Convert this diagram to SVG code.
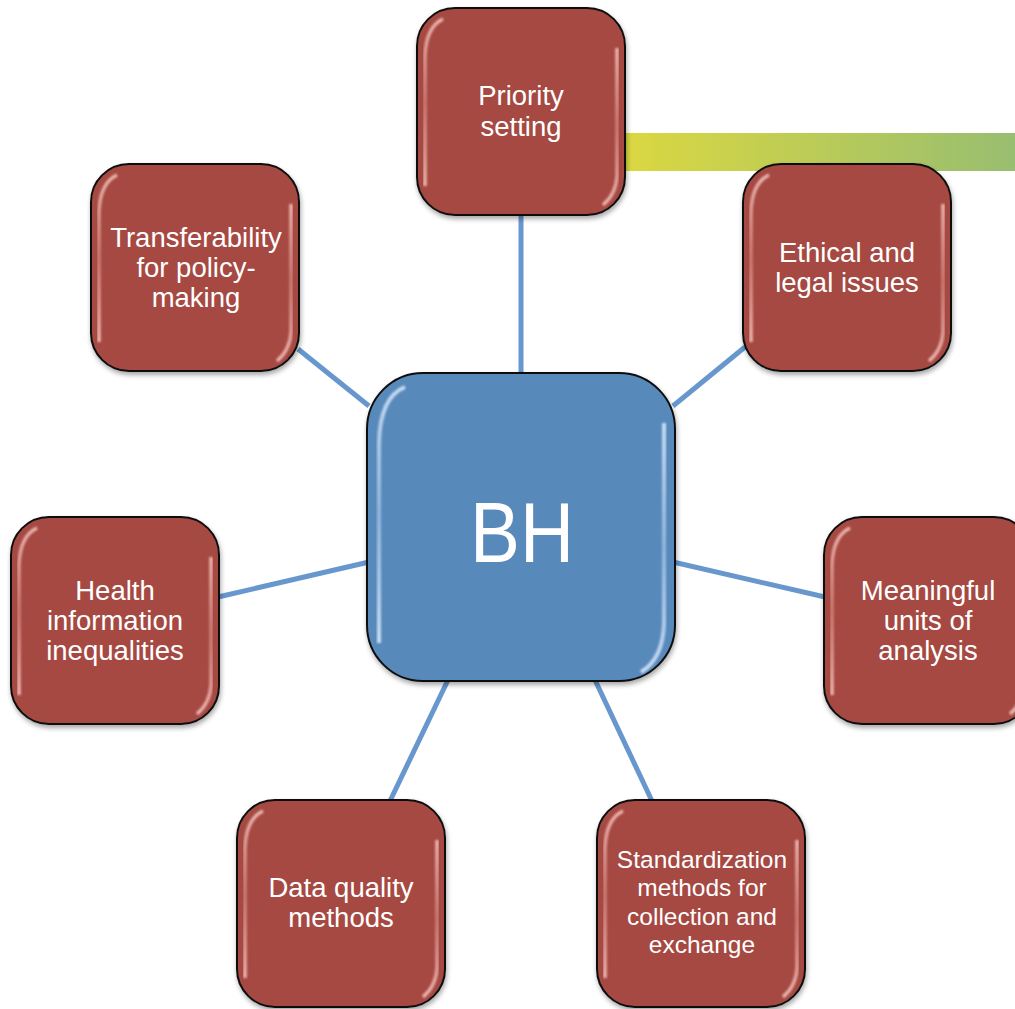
<svg xmlns="http://www.w3.org/2000/svg" xmlns:xlink="http://www.w3.org/1999/xlink" width="1015" height="1009" viewBox="0 0 1015 1009">
<defs>
<style>
.lbl{font-family:"Liberation Sans",Arial,sans-serif;font-size:27.5px;fill:#ffffff;text-anchor:middle}
.sm{font-size:24.5px}
.big{font-size:86px}
.conn{stroke:#6797cd;stroke-width:5;fill:none}
</style>
<linearGradient id="bar" x1="0" y1="0" x2="1" y2="0">
<stop offset="0" stop-color="#dcd840"/>
<stop offset="1" stop-color="#98be70"/>
</linearGradient>
<linearGradient id="hlR" x1="0" y1="0" x2="0" y2="1">
<stop offset="0" stop-color="#f6c4be" stop-opacity="0.9"/>
<stop offset="0.5" stop-color="#e49a92" stop-opacity="0.6"/>
<stop offset="1" stop-color="#f6c4be" stop-opacity="0.9"/>
</linearGradient>
<linearGradient id="hlB" x1="0" y1="0" x2="0" y2="1">
<stop offset="0" stop-color="#cfe3f7" stop-opacity="0.95"/>
<stop offset="0.5" stop-color="#a9c8ea" stop-opacity="0.7"/>
<stop offset="1" stop-color="#cfe3f7" stop-opacity="0.95"/>
</linearGradient>
<filter id="sh" x="-10%" y="-10%" width="125%" height="125%">
<feGaussianBlur in="SourceAlpha" stdDeviation="2.5"/>
<feOffset dx="1" dy="3" result="b"/>
<feComponentTransfer><feFuncA type="linear" slope="0.35"/></feComponentTransfer>
<feMerge><feMergeNode/><feMergeNode in="SourceGraphic"/></feMerge>
</filter>
<filter id="soft"><feGaussianBlur stdDeviation="0.9"/></filter>
<g id="redbox">
<rect x="0" y="0" width="208" height="207" rx="38" fill="#a54a43" stroke="#111" stroke-width="2" filter="url(#sh)"/>
<path d="M26,11 Q9,19 8,48 L8,178" stroke="url(#hlR)" stroke-width="3.5" fill="none" filter="url(#soft)"/>
<path d="M200,40 L200,168 Q199,186 186,197" stroke="url(#hlR)" stroke-width="3.5" fill="none" filter="url(#soft)"/>
</g>
<g id="bluebox">
<rect x="0" y="0" width="308" height="308" rx="56" fill="#5889bb" stroke="#111" stroke-width="2" filter="url(#sh)"/>
<path d="M38,14 Q13,24 12,70 L12,270" stroke="url(#hlB)" stroke-width="4" fill="none" filter="url(#soft)"/>
<path d="M297,50 L297,250 Q296,286 274,299" stroke="url(#hlB)" stroke-width="4" fill="none" filter="url(#soft)"/>
</g>
</defs>
<rect x="0" y="0" width="1015" height="1009" fill="#ffffff"/>
<rect id="bar-deco" x="620" y="133" width="395" height="38" fill="url(#bar)"/>
<g id="connectors">
<line class="conn" x1="521" y1="214" x2="521" y2="375"/>
<line class="conn" x1="298" y1="349" x2="369" y2="406"/>
<line class="conn" x1="745" y1="347" x2="673" y2="406"/>
<line class="conn" x1="218" y1="597" x2="369" y2="562"/>
<line class="conn" x1="825" y1="597" x2="673" y2="562"/>
<line class="conn" x1="390" y1="801" x2="448" y2="680"/>
<line class="conn" x1="652" y1="801" x2="595" y2="680"/>
</g>
<g id="node-priority">
<use xlink:href="#redbox" x="417" y="8"/>
<text class="lbl" x="521" y="105">Priority</text>
<text class="lbl" x="521" y="136">setting</text>
</g>
<g id="node-transfer">
<use xlink:href="#redbox" x="91" y="164"/>
<text class="lbl" x="196" y="247">Transferability</text>
<text class="lbl" x="196" y="277">for policy-</text>
<text class="lbl" x="196" y="307">making</text>
</g>
<g id="node-ethical">
<use xlink:href="#redbox" x="743" y="164"/>
<text class="lbl" x="847" y="262">Ethical and</text>
<text class="lbl" x="847" y="292">legal issues</text>
</g>
<g id="node-health">
<use xlink:href="#redbox" x="11" y="517"/>
<text class="lbl" x="115" y="600">Health</text>
<text class="lbl" x="115" y="630">information</text>
<text class="lbl" x="115" y="660">inequalities</text>
</g>
<g id="node-meaningful">
<use xlink:href="#redbox" x="824" y="517"/>
<text class="lbl" x="928" y="600">Meaningful</text>
<text class="lbl" x="928" y="630">units of</text>
<text class="lbl" x="928" y="660">analysis</text>
</g>
<g id="node-dataquality">
<use xlink:href="#redbox" x="237" y="800"/>
<text class="lbl" x="341" y="897">Data quality</text>
<text class="lbl" x="341" y="927">methods</text>
</g>
<g id="node-standard">
<use xlink:href="#redbox" x="597" y="800"/>
<text class="lbl sm" x="702" y="868">Standardization</text>
<text class="lbl sm" x="702" y="896">methods for</text>
<text class="lbl sm" x="702" y="925">collection and</text>
<text class="lbl sm" x="702" y="953">exchange</text>
</g>
<g id="node-bh">
<use xlink:href="#bluebox" x="367" y="373"/>
<text class="lbl big" x="522" y="562" textLength="104" lengthAdjust="spacingAndGlyphs">BH</text>
</g>
</svg>
